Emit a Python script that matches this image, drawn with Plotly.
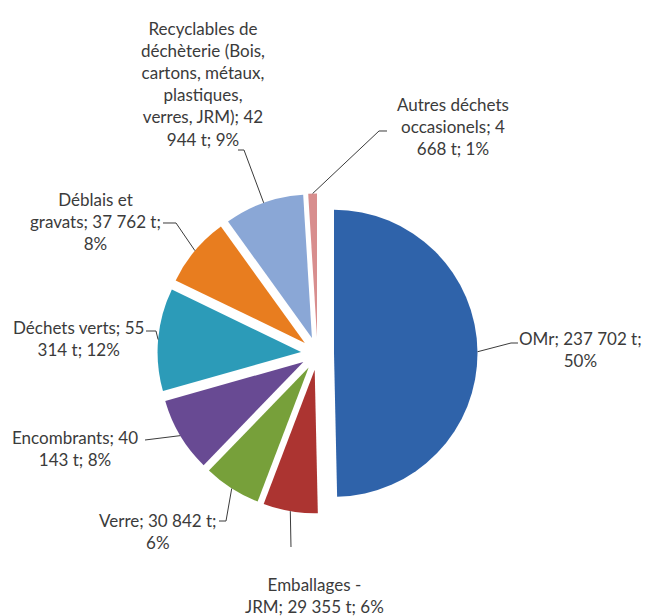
import math
import plotly.graph_objects as go

# Tonnages de déchets par flux
categories = [
    "OMr",
    "Emballages - JRM",
    "Verre",
    "Encombrants",
    "Déchets verts",
    "Déblais et gravats",
    "Recyclables de déchèterie (Bois, cartons, métaux, plastiques, verres, JRM)",
    "Autres déchets occasionels",
]
tonnages = [237702, 29355, 30842, 40143, 55314, 37762, 42944, 4668]
colors = ["#2f63aa", "#ac3431", "#77a03a", "#684a93", "#2c9bb8", "#e87d1f", "#8aa7d6", "#d88e8e"]

# number of words on each line of every data label
label_words_per_line = [
    [4, 1],
    [2, 5],
    [4, 1],
    [2, 3],
    [3, 3],
    [2, 4, 1],
    [2, 2, 2, 1, 3, 3],
    [2, 2, 3],
]

# label block centres (px) and leader-line bends (px, after the slice point)
label_centres = [(580, 349), (314, 595), (158, 531), (75, 448), (78, 338), (95, 221), (203, 84), (453, 126)]
leader_bends = [
    [(511, 343), (518, 343)],
    [(291, 547)],
    [(226, 521), (219, 521)],
    [(145, 440)],
    [(156, 331), (146, 331)],
    [(176, 223), (163, 223)],
    [(244, 150), (238, 150)],
    [(379, 131), (387, 131)],
]

W, H = 645, 616
CX, CY = 317.5, 353.5   # pie centre (px)
R_OUT = 160.0           # radius incl. explosion (px)
PULL = 0.115

total = sum(tonnages)


def fmt_t(v):
    return f"{v:,}".replace(",", " ")


def px(x, y):
    return x / W, 1 - y / H


fig = go.Figure(
    go.Pie(
        labels=categories,
        values=tonnages,
        sort=False,
        direction="clockwise",
        rotation=0,
        pull=[PULL] * len(tonnages),
        marker=dict(colors=colors, line=dict(width=0)),
        textinfo="none",
        hoverinfo="label+value+percent",
        showlegend=False,
        domain=dict(
            x=[(CX - R_OUT) / W, (CX + R_OUT) / W],
            y=[1 - (CY + R_OUT) / H, 1 - (CY - R_OUT) / H],
        ),
    )
)

annotations = []
shapes = []
cum = 0.0
for name, v, words_per_line, centre, bends in zip(
    categories, tonnages, label_words_per_line, label_centres, leader_bends
):
    frac = v / total
    mid = (cum + frac / 2) * 2 * math.pi
    cum += frac
    # point on the outer edge of the exploded slice, on its bisector
    tx = CX + R_OUT * math.sin(mid)
    ty = CY - R_OUT * math.cos(mid)

    words = f"{name}; {fmt_t(v)} t; {round(frac * 100)}%".split(" ")
    lines, i = [], 0
    for n in words_per_line:
        lines.append(" ".join(words[i:i + n]))
        i += n
    ax, ay = px(*centre)
    annotations.append(dict(
        x=ax, y=ay, xref="paper", yref="paper", text="<br>".join(lines),
        showarrow=False, align="center", xanchor="center", yanchor="middle",
        font=dict(family="Lato", size=17, color="#3b3b3b"),
    ))

    pts = [(tx, ty)] + bends
    path = "M " + " L ".join(f"{px(x, y)[0]:.5f},{px(x, y)[1]:.5f}" for x, y in pts)
    shapes.append(dict(type="path", path=path, xref="paper", yref="paper",
                       line=dict(color="#3b3b3b", width=1)))

fig.update_layout(
    width=W,
    height=H,
    margin=dict(l=0, r=0, t=0, b=0),
    paper_bgcolor="white",
    plot_bgcolor="white",
    annotations=annotations,
    shapes=shapes,
)

fig.write_html("out.html")
